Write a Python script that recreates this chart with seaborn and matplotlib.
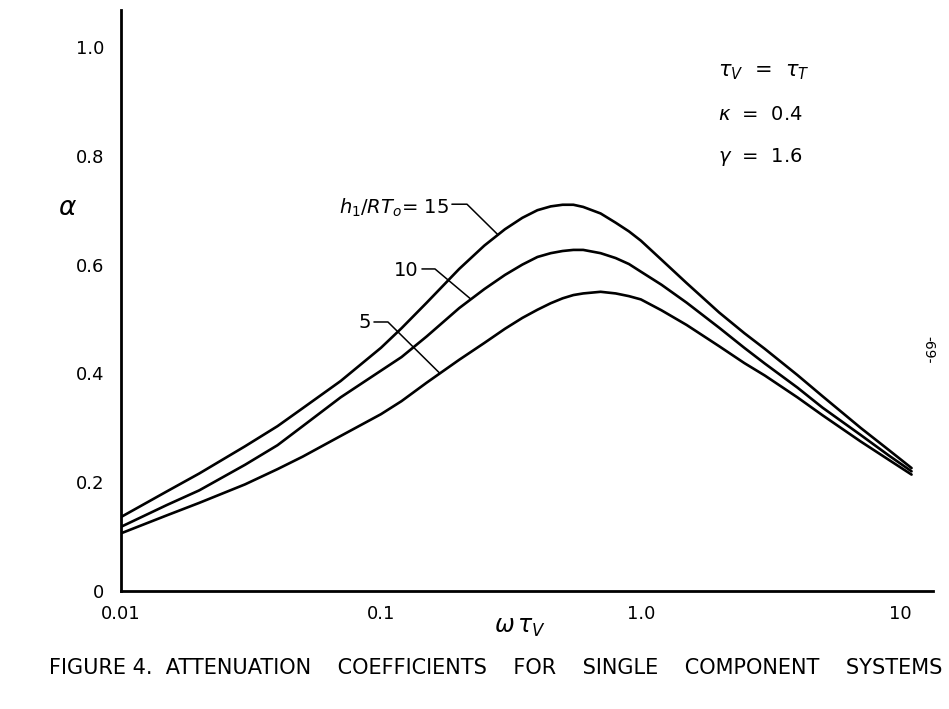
import numpy as np
import pandas as pd
import matplotlib
matplotlib.use("Agg")
import matplotlib.pyplot as plt
import seaborn as sns

# ---- data ----
omega_tau = [0.01, 0.015, 0.02, 0.03, 0.04, 0.05, 0.07, 0.1, 0.12, 0.15, 0.2,
             0.25, 0.3, 0.35, 0.4, 0.45, 0.5, 0.55, 0.6, 0.7, 0.8, 0.9, 1.0,
             1.2, 1.5, 2.0, 2.5, 3.0, 4.0, 5.0, 7.0, 9.0, 11.0]
alpha_h15 = [0.136, 0.183, 0.216, 0.266, 0.303, 0.336, 0.386, 0.447, 0.483,
             0.530, 0.592, 0.635, 0.665, 0.686, 0.700, 0.707, 0.710, 0.710,
             0.706, 0.694, 0.677, 0.661, 0.644, 0.609, 0.566, 0.512, 0.474,
             0.445, 0.397, 0.358, 0.300, 0.259, 0.226]
alpha_h10 = [0.118, 0.158, 0.185, 0.232, 0.268, 0.303, 0.356, 0.405, 0.430,
             0.468, 0.520, 0.555, 0.581, 0.600, 0.614, 0.621, 0.625, 0.627,
             0.627, 0.621, 0.612, 0.601, 0.587, 0.563, 0.530, 0.484, 0.447,
             0.418, 0.374, 0.337, 0.287, 0.249, 0.220]
alpha_h5 = [0.106, 0.139, 0.162, 0.196, 0.224, 0.247, 0.285, 0.325, 0.349,
            0.383, 0.425, 0.456, 0.482, 0.502, 0.517, 0.529, 0.538, 0.544,
            0.547, 0.550, 0.547, 0.542, 0.536, 0.516, 0.489, 0.450, 0.419,
            0.396, 0.356, 0.323, 0.275, 0.241, 0.214]
series_names = ["15", "10", "5"]
x_ticks = [0.01, 0.05, 0.1, 0.5, 1.0, 5.0, 10.0]
x_tick_labels = ["0.01", "", "0.1", "", "1.0", "", "10"]
y_ticks = [0, 0.2, 0.4, 0.6, 0.8, 1.0]
y_tick_labels = ["0", "0.2", "0.4", "0.6", "0.8", "1.0"]

df = pd.DataFrame({
    "x": omega_tau * 3,
    "alpha": alpha_h15 + alpha_h10 + alpha_h5,
    "h": [n for n in series_names for _ in omega_tau],
})

sns.set_style("white")
plt.rcParams["font.family"] = ["DejaVu Sans"]
for key in ["text.color", "axes.labelcolor", "xtick.color", "ytick.color"]:
    plt.rcParams[key] = "black"

W, H = 949, 709
fig = plt.figure(figsize=(W / 100, H / 100), dpi=100)
ax = fig.add_axes([121 / W, 1 - 591 / H, (933 - 121) / W, (591 - 10) / H])

sns.lineplot(data=df, x="x", y="alpha", hue="h", hue_order=series_names,
             palette=["black"] * 3, linewidth=1.9, legend=False, ax=ax,
             sort=False, estimator=None)

ax.set_xscale("log")
ax.set_xlim(0.01, 13.3)
ax.set_ylim(0, 1.068)
ax.set_xticks(x_ticks)
ax.set_xticklabels(x_tick_labels, fontsize=13)
ax.xaxis.set_minor_locator(matplotlib.ticker.NullLocator())
ax.set_yticks(y_ticks)
ax.set_yticklabels(y_tick_labels, fontsize=13)
ax.tick_params(axis="x", direction="out", length=6, width=1.6, pad=4,
               color="black", labelcolor="black")
ax.tick_params(axis="y", direction="out", length=9, width=1.6, pad=3,
               color="black", labelcolor="black")
for s in ["top", "right"]:
    ax.spines[s].set_visible(False)
for s in ["left", "bottom"]:
    ax.spines[s].set_linewidth(2.0)
    ax.spines[s].set_color("black")
ax.set_xlabel("")
ax.set_ylabel("")

# axis labels
fig.text(68 / W, 1 - 208 / H, r"$\alpha$", fontsize=19, ha="center", va="center")
fig.text(520 / W, 1 - 627 / H, r"$\omega\,\tau_V$", fontsize=17, ha="center", va="center")

# leader lines and curve labels
lx = np.log10(omega_tau)
def on_curve(xv, ys):
    return float(np.interp(np.log10(xv), lx, ys))

lw_lead = 1.1
# 15
x_end = 0.282
ax.plot([0.1875, 0.2143, x_end], [0.711, 0.711, on_curve(x_end, alpha_h15)],
        color="black", lw=lw_lead)
ax.text(0.183, 0.705, r"$h_1/RT_o$= 15", fontsize=14, ha="right", va="center")
# 10
x_end = 0.222
ax.plot([0.1438, 0.1614, x_end], [0.592, 0.592, on_curve(x_end, alpha_h10)],
        color="black", lw=lw_lead)
ax.text(0.140, 0.590, "10", fontsize=14, ha="right", va="center")
# 5
x_end = 0.1686
ax.plot([0.094, 0.1064, x_end], [0.4945, 0.4945, on_curve(x_end, alpha_h5)],
        color="black", lw=lw_lead)
ax.text(0.0915, 0.493, "5", fontsize=14, ha="right", va="center")

# parameter box
fig.text(718 / W, 1 - 72 / H, r"$\tau_V$  =  $\tau_T$", fontsize=15, ha="left", va="center")
fig.text(718 / W, 1 - 114 / H, r"$\kappa$  =  0.4", fontsize=14, ha="left", va="center")
fig.text(718 / W, 1 - 157 / H, r"$\gamma$  =  1.6", fontsize=14, ha="left", va="center")

# page number
fig.text(928 / W, 1 - 350 / H, "-69-", fontsize=10, rotation=-90, ha="center", va="center")

# caption
fig.text(496 / W, 1 - 668 / H,
         "FIGURE 4.  ATTENUATION    COEFFICIENTS    FOR    SINGLE    COMPONENT    SYSTEMS",
         fontsize=15, ha="center", va="center")

fig.savefig("out.png", dpi=100)
